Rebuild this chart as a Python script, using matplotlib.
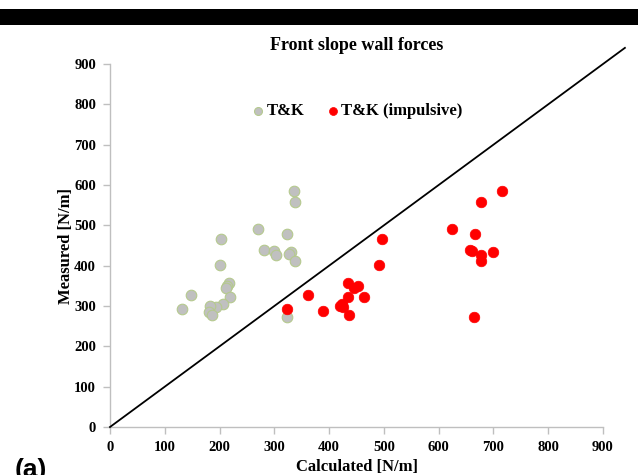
import matplotlib
matplotlib.use("Agg")
import matplotlib.pyplot as plt
from matplotlib.patches import Rectangle

# Data
tk_calc = [335, 338, 270, 323, 203, 282, 300, 303, 330, 326, 338, 200,
           218, 214, 212, 219, 148, 132, 206, 193, 182, 181, 187, 324]
tk_meas = [586, 558, 490, 479, 466, 438, 436, 426, 434, 428, 411, 402,
           356, 350, 344, 322, 327, 292, 305, 297, 300, 286, 278, 273]

imp_calc = [716, 677, 624, 667, 497, 657, 660, 678, 700, 678, 491, 434,
            453, 446, 434, 464, 362, 423, 426, 388, 436, 665, 324, 420]
imp_meas = [586, 558, 490, 479, 466, 438, 436, 426, 434, 411, 402, 356,
            350, 344, 322, 322, 327, 305, 297, 288, 278, 273, 292, 300]

line_x = [0, 940]
line_y = [0, 940]

ticks = [0, 100, 200, 300, 400, 500, 600, 700, 800, 900]

serif = "Liberation Serif"

W, H = 638, 475
fig = plt.figure(figsize=(W / 100, H / 100), dpi=100)
ax = fig.add_axes([110 / W, 1 - 427 / H, 493 / W, 363 / H])

ax.plot(line_x, line_y, color="black", lw=1.3, clip_on=False, zorder=3)
ax.scatter(tk_calc, tk_meas, s=58, c="#c0c0c0", edgecolors="#b5c98e",
           linewidths=0.8, zorder=4, label="T&K", clip_on=False)
ax.scatter(imp_calc, imp_meas, s=58, c="#ff0000", edgecolors="#ff0000",
           linewidths=0.5, zorder=4, label="T&K (impulsive)", clip_on=False)

ax.set_xlim(0, 900)
ax.set_ylim(0, 900)
ax.set_xticks(ticks)
ax.set_yticks(ticks)
for s in ["top", "right"]:
    ax.spines[s].set_visible(False)
for s in ["left", "bottom"]:
    ax.spines[s].set_color("#bfbfbf")
    ax.spines[s].set_linewidth(1.0)
ax.tick_params(direction="out", length=5, color="#bfbfbf", width=1,
               labelsize=10.5, pad=5)
for lab in ax.get_xticklabels() + ax.get_yticklabels():
    lab.set_fontfamily(serif)
    lab.set_fontweight("bold")

ax.set_xlabel("Calculated [N/m]", fontfamily=serif, fontweight="bold",
              fontsize=12, labelpad=4)
ax.set_ylabel("Measured [N/m]", fontfamily=serif, fontweight="bold",
              fontsize=12, labelpad=0.5)
ax.set_title("Front slope wall forces", fontfamily=serif, fontweight="bold",
             fontsize=13, pad=10)

leg = ax.legend(loc="center", bbox_to_anchor=((357 - 110) / 493, (427 - 111) / 363),
                ncol=2, frameon=False, handlelength=0.8, handletextpad=0.1,
                columnspacing=1.3, markerscale=0.75,
                prop={"family": serif, "weight": "bold", "size": 12})

# black bar at top
fig.patches.append(Rectangle((0, 1 - 25 / H), 1, 16 / H, transform=fig.transFigure,
                             facecolor="black", edgecolor="none"))
fig.text(15 / W, 1 - 458 / H, "(a)", fontsize=19, fontweight="bold",
         va="top", ha="left", fontfamily="Liberation Sans")

fig.savefig("out.png", dpi=100)
